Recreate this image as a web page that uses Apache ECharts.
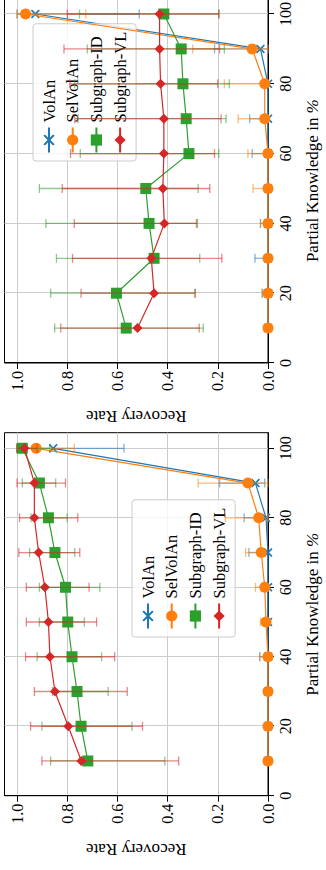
<!DOCTYPE html>
<html>
<head>
<meta charset="utf-8">
<title>Recovery Rate vs Partial Knowledge</title>
<script src="https://cdn.jsdelivr.net/npm/echarts@6/dist/echarts.min.js"></script>
<style>
  html, body { margin: 0; padding: 0; background: #fff; width: 326px; height: 870px; overflow: hidden; position: relative; }
  .panel { position: absolute; left: 0; height: 326px; transform-origin: 0 0; }
</style>
</head>
<body>
<div id="panelTop" class="panel"></div>
<div id="panelBottom" class="panel"></div>
<script>
// ---- shared axes ----
const knowledge = [10, 20, 30, 40, 50, 60, 70, 80, 90, 100];
const knowledgeTicks = [0, 20, 40, 60, 80, 100];
const rateTicks = [0, 0.2, 0.4, 0.6, 0.8, 1.0];
const seriesNames = ['VolAn', 'SelVolAn', 'Subgraph-ID', 'Subgraph-VL'];

// ---- upper panel: mean recovery rate with lower/upper error bounds ----
const topVolAn      = [0.0, 0.0, 0.0, 0.0, 0.0, 0.0, 0.0, 0.0, 0.030, 0.927];
const topVolAnLow   = [0.0, 0.0, 0.0, 0.0, 0.0, 0.0, 0.0, 0.0, 0.0, 0.513];
const topVolAnHigh  = [0.0, 0.023, 0.052, 0.030, 0.010, 0.063, 0.073, 0.010, 0.213, 1.0];

const topSelVolAn     = [0.0, 0.0, 0.0, 0.0, 0.0, 0.0, 0.013, 0.013, 0.063, 0.966];
const topSelVolAnLow  = [0.0, 0.0, 0.0, 0.0, 0.0, 0.0, 0.0, 0.0, 0.0, 0.726];
const topSelVolAnHigh = [0.0, 0.023, 0.0, 0.030, 0.060, 0.080, 0.119, 0.174, 0.300, 1.0];

const topSubID     = [0.565, 0.604, 0.454, 0.474, 0.487, 0.315, 0.326, 0.339, 0.346, 0.415];
const topSubIDLow  = [0.258, 0.290, 0.272, 0.281, 0.278, 0.196, 0.167, 0.154, 0.174, 0.195];
const topSubIDHigh = [0.850, 0.866, 0.843, 0.885, 0.911, 0.748, 0.757, 0.770, 0.720, 0.751];

const topSubVL     = [0.520, 0.454, 0.465, 0.413, 0.419, 0.415, 0.415, 0.428, 0.432, 0.432];
const topSubVLLow  = [0.274, 0.291, 0.184, 0.285, 0.232, 0.213, 0.187, 0.200, 0.193, 0.196];
const topSubVLHigh = [0.826, 0.745, 0.779, 0.772, 0.820, 0.787, 0.770, 0.790, 0.813, 0.800];

// ---- lower panel ----
const botVolAn      = [0.0, 0.0, 0.0, 0.0, 0.0, 0.0, 0.0, 0.008, 0.050, 0.856];
const botVolAnLow   = [0.0, 0.0, 0.0, 0.0, 0.0, 0.0, 0.0, 0.0, 0.013, 0.574];
const botVolAnHigh  = [0.005, 0.005, 0.005, 0.033, 0.010, 0.010, 0.076, 0.095, 0.193, 1.0];

const botSelVolAn     = [0.0, 0.0, 0.0, 0.0, 0.008, 0.013, 0.027, 0.037, 0.080, 0.924];
const botSelVolAnLow  = [0.0, 0.0, 0.0, 0.0, 0.0, 0.0, 0.010, 0.0, 0.0, 0.772];
const botSelVolAnHigh = [0.0, 0.0, 0.0, 0.033, 0.030, 0.050, 0.089, 0.170, 0.278, 1.0];

const botSubID     = [0.718, 0.745, 0.761, 0.781, 0.798, 0.807, 0.849, 0.875, 0.911, 0.979];
const botSubIDLow  = [0.411, 0.542, 0.637, 0.663, 0.732, 0.670, 0.770, 0.800, 0.846, 0.869];
const botSubIDHigh = [0.866, 0.901, 0.859, 0.920, 0.911, 0.911, 0.950, 0.944, 0.979, 1.0];

const botSubVL     = [0.744, 0.796, 0.849, 0.869, 0.875, 0.889, 0.914, 0.931, 0.931, 0.970];
const botSubVLLow  = [0.356, 0.500, 0.561, 0.611, 0.683, 0.713, 0.750, 0.758, 0.807, 0.920];
const botSubVLHigh = [0.901, 0.946, 0.931, 0.966, 0.963, 0.963, 0.993, 0.990, 1.0, 1.0];

// ---- styling ----
const FONT = '"Liberation Serif", "DejaVu Serif", serif';
const COLORS = ['#1f77b4', '#ff7f0e', '#2ca02c', '#d62728'];
const ERR_COLORS = ['rgba(31,119,180,0.55)', 'rgba(255,127,14,0.55)', 'rgba(44,160,44,0.55)', 'rgba(214,39,40,0.55)'];
const CROSS = 'path://M0,1.3L1.3,0L5,3.7L8.7,0L10,1.3L6.3,5L10,8.7L8.7,10L5,6.3L1.3,10L0,8.7L3.7,5Z';
const SYMBOLS = [CROSS, 'circle', 'rect', 'diamond'];
const SYMBOL_SIZES = [9, 11, 11, 10];

function errorBars(idx, low, high) {
  const color = ERR_COLORS[idx];
  return {
    type: 'custom',
    name: seriesNames[idx] + ' spread',
    z: 2 + idx * 2,
    silent: true,
    data: knowledge.map((k, i) => [k, low[i], high[i]]),
    encode: { x: 0, y: [1, 2] },
    renderItem(params, api) {
      const a = api.coord([api.value(0), api.value(1)]);
      const b = api.coord([api.value(0), api.value(2)]);
      const cap = 4.5;
      const style = { stroke: color, lineWidth: 1.3, fill: null };
      return {
        type: 'group',
        children: [
          { type: 'line', shape: { x1: a[0], y1: a[1], x2: b[0], y2: b[1] }, style },
          { type: 'line', shape: { x1: a[0] - cap, y1: a[1], x2: a[0] + cap, y2: a[1] }, style },
          { type: 'line', shape: { x1: b[0] - cap, y1: b[1], x2: b[0] + cap, y2: b[1] }, style }
        ]
      };
    }
  };
}

function meanLine(idx, values) {
  return {
    type: 'line',
    name: seriesNames[idx],
    z: 3 + idx * 2,
    data: knowledge.map((k, i) => [k, values[i]]),
    symbol: SYMBOLS[idx],
    symbolSize: SYMBOL_SIZES[idx],
    showAllSymbol: true,
    clip: false,
    lineStyle: { color: COLORS[idx], width: 1.2 },
    itemStyle: { color: COLORS[idx], borderWidth: 0 },
    emphasis: { disabled: true }
  };
}

function buildOption(groups, layout) {
  const series = [];
  groups.forEach((g, idx) => {
    series.push(errorBars(idx, g[1], g[2]));
    series.push(meanLine(idx, g[0]));
  });
  return {
    animation: false,
    backgroundColor: 'transparent',
    textStyle: { fontFamily: FONT },
    grid: {
      left: layout.gridLeft, right: layout.gridRight, top: 4.5, bottom: 53.3,
      show: true, borderColor: '#000', borderWidth: 1, backgroundColor: 'transparent'
    },
    legend: {
      orient: 'vertical',
      left: layout.legendLeft, top: layout.legendTop,
      data: seriesNames,
      itemWidth: 25, itemHeight: 14, itemGap: 6.7,
      padding: [7.5, 8, 7.5, 7.5],
      backgroundColor: 'rgba(255,255,255,0.8)',
      borderColor: '#cccccc', borderWidth: 1, borderRadius: 3,
      selectedMode: false,
      textStyle: { fontFamily: FONT, fontSize: 16.5, color: '#000', lineHeight: 14 }
    },
    xAxis: {
      type: 'value', min: 0, max: 104.5, interval: 20,
      name: 'Partial Knowledge in {i|%}',
      nameLocation: 'middle', nameGap: 36,
      nameTextStyle: { fontFamily: FONT, fontSize: 17, color: '#000',
        rich: { i: { fontFamily: FONT, fontSize: 17, fontStyle: 'italic', color: '#000' } } },
      axisLine: { show: true, onZero: false, lineStyle: { color: '#000', width: 1 } },
      axisTick: { show: true, length: 6, lineStyle: { color: '#000' }, customValues: knowledgeTicks },
      axisLabel: { margin: 9, fontFamily: FONT, fontSize: 16, color: '#000', customValues: knowledgeTicks,
        formatter: v => (v % 20 === 0 ? String(v) : '') },
      splitLine: { show: true, lineStyle: { color: '#cccccc', width: 1 } }
    },
    yAxis: {
      type: 'value', min: 0, max: 1.05, interval: 0.2,
      name: 'Recovery Rate',
      nameLocation: 'middle', nameRotate: 90, nameGap: 45,
      nameTextStyle: { fontFamily: FONT, fontSize: 17, color: '#000' },
      axisLine: { show: true, onZero: false, lineStyle: { color: '#000', width: 1 } },
      axisTick: { show: true, length: 6, lineStyle: { color: '#000' }, customValues: rateTicks },
      axisLabel: { margin: 8, fontFamily: FONT, fontSize: 16, color: '#000', customValues: rateTicks,
        formatter: v => (Math.abs(v * 10 - Math.round(v * 10)) < 1e-6 ? v.toFixed(1) : '') },
      splitLine: { show: true, lineStyle: { color: '#cccccc', width: 1 } }
    },
    series
  };
}

// Each panel is laid out landscape and turned a quarter turn counter-clockwise.
function mountPanel(id, top, width, groups, layout) {
  const el = document.getElementById(id);
  el.style.top = top + 'px';
  el.style.width = width + 'px';
  el.style.transform = 'translateY(' + width + 'px) rotate(-90deg)';
  const chart = echarts.init(el, null, { renderer: 'svg', width: width, height: 326 });
  chart.setOption(buildOption(groups, layout));
}

mountPanel('panelTop', -2, 435, [
  [topVolAn, topVolAnLow, topVolAnHigh],
  [topSelVolAn, topSelVolAnLow, topSelVolAnHigh],
  [topSubID, topSubIDLow, topSubIDHigh],
  [topSubVL, topSubVLLow, topSubVLHigh]
], { gridLeft: 69.7, gridRight: 0.3, legendLeft: 272, legendTop: 33 });

mountPanel('panelBottom', 432, 438, [
  [botVolAn, botVolAnLow, botVolAnHigh],
  [botSelVolAn, botSelVolAnLow, botSelVolAnHigh],
  [botSubID, botSubIDLow, botSubIDHigh],
  [botSubVL, botSubVLLow, botSubVLHigh]
], { gridLeft: 74.3, gridRight: 0.7, legendLeft: 233, legendTop: 132 });
</script>
</body>
</html>
